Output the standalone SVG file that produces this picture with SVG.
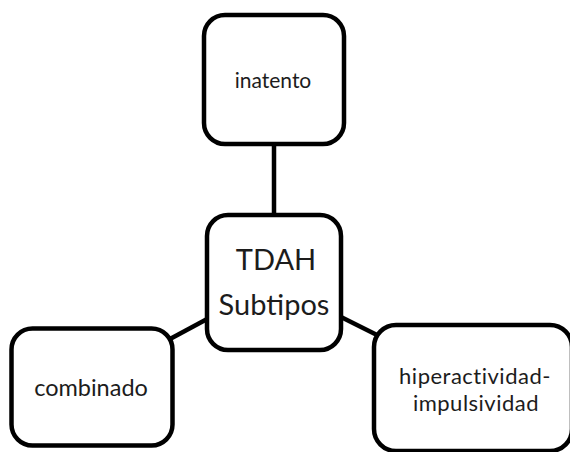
<svg xmlns="http://www.w3.org/2000/svg" width="570" height="452" viewBox="0 0 570 452">
<style>
.box{fill:#fff;stroke:#000;stroke-width:4.5}
.edge{stroke:#000;stroke-width:4.5;fill:none}
text{font-family:Lato,"Liberation Sans",sans-serif;fill:#1c1c1c;text-anchor:middle}
</style>
<rect width="570" height="452" fill="#fff"/>
<g id="connectors">
<line class="edge" x1="274" y1="144" x2="274" y2="215"/>
<line class="edge" x1="170" y1="339" x2="209" y2="318"/>
<line class="edge" x1="339" y1="316" x2="377" y2="335"/>
</g>
<g id="node-inatento">
<rect class="box" x="204" y="15" width="140" height="129" rx="21"/>
<text x="273" y="88" font-size="21">inatento</text>
</g>
<g id="node-tdah">
<rect class="box" x="207" y="215" width="134" height="135" rx="21"/>
<text x="276" y="270" font-size="29">TDAH</text>
<text x="274" y="315" font-size="29">Subtipos</text>
</g>
<g id="node-combinado">
<rect class="box" x="11.5" y="328.5" width="161" height="117" rx="21"/>
<text x="91" y="396" font-size="23.5">combinado</text>
</g>
<g id="node-hiperactividad">
<rect class="box" x="374" y="325" width="198" height="126" rx="22"/>
<text x="475" y="383.5" font-size="22" letter-spacing="0.5">hiperactividad-</text>
<text x="476" y="410.5" font-size="22" letter-spacing="0.5">impulsividad</text>
</g>
</svg>
